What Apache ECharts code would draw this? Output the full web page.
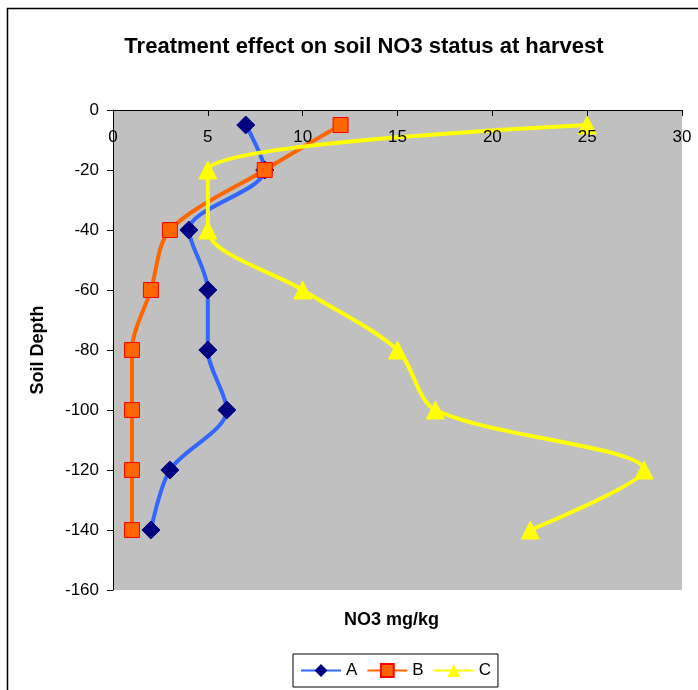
<!DOCTYPE html>
<html>
<head>
<meta charset="utf-8">
<script src="https://cdn.jsdelivr.net/npm/echarts@6/dist/echarts.min.js"></script>
<style>
  html, body { margin: 0; padding: 0; background: #fff; }
  #chart { width: 698px; height: 690px; }
</style>
</head>
<body>
<div id="chart"></div>
<script>
// Soil depth (cm, negative downward) at each sampling layer
const depths = [-5, -20, -40, -60, -80, -100, -120, -140];
// NO3 concentration (mg/kg) per treatment
const seriesA = [7, 8, 4, 5, 5, 6, 3, 2];
const seriesB = [12, 8, 3, 2, 1, 1, 1, 1];
const seriesC = [25, 5, 5, 10, 15, 17, 28, 22];
const xTicks = { min: 0, max: 30, step: 5 };
const yTicks = { min: -160, max: 0, step: 20 };

const font = 'Liberation Sans, Arial, sans-serif';
const pairs = vals => vals.map((v, i) => [v, depths[i]]);

const chart = echarts.init(document.getElementById('chart'));
chart.setOption({
  animation: false,
  backgroundColor: '#ffffff',
  title: {
    text: 'Treatment effect on soil NO3 status at harvest',
    left: 359, top: 31, textAlign: 'center',
    textStyle: { fontFamily: font, fontSize: 22, fontWeight: 'bold', color: '#000' }
  },
  grid: { left: 113, top: 110, width: 569, height: 480, show: true,
          backgroundColor: '#c0c0c0', borderWidth: 0 },
  xAxis: {
    type: 'value', position: 'top', min: xTicks.min, max: xTicks.max, interval: xTicks.step,
    z: 5,
    axisLine: { show: true, onZero: false, lineStyle: { color: '#000', width: 1 } },
    axisTick: { show: true, inside: true, length: 6, lineStyle: { color: '#000' } },
    axisLabel: { inside: true, margin: 19, fontFamily: font, fontSize: 17, color: '#000', verticalAlign: 'top' },
    splitLine: { show: false }
  },
  yAxis: {
    type: 'value', min: yTicks.min, max: yTicks.max, interval: yTicks.step,
    name: 'Soil Depth', nameLocation: 'middle', nameRotate: 90, nameGap: 66,
    nameTextStyle: { fontFamily: font, fontSize: 18, fontWeight: 'bold', color: '#000' },
    axisLine: { show: true, onZero: false, lineStyle: { color: '#000', width: 1 } },
    axisTick: { show: true, length: 6, lineStyle: { color: '#000' } },
    axisLabel: { margin: 14, fontFamily: font, fontSize: 17, color: '#000' },
    splitLine: { show: false }
  },
  legend: {
    data: ['A', 'B', 'C'],
    left: 293, top: 654,
    itemWidth: 40, itemHeight: 16, itemGap: 9,
    padding: [8, 7, 8, 7],
    borderColor: '#000', borderWidth: 1,
    textStyle: { fontFamily: font, fontSize: 17, color: '#000' }
  },
  graphic: [
    { type: 'rect', silent: true, z: -10,
      shape: { x: 7.5, y: 8.5, width: 720, height: 720 },
      style: { fill: 'none', stroke: '#000', lineWidth: 1.5 } },
    { type: 'text', left: 344, top: 611,
      style: { text: 'NO3 mg/kg', font: 'bold 18px ' + font, fill: '#000' } }
  ],
  series: [
    { name: 'A', type: 'line', data: pairs(seriesA), smooth: 0.3,
      symbol: 'diamond', symbolSize: 18,
      lineStyle: { color: '#3366ff', width: 4 },
      itemStyle: { color: '#000080', borderColor: '#000080' } },
    { name: 'B', type: 'line', data: pairs(seriesB), smooth: 0.3,
      symbol: 'rect', symbolSize: 15,
      lineStyle: { color: '#ff6600', width: 4 },
      itemStyle: { color: '#ff6600', borderColor: '#ff0000', borderWidth: 1 } },
    { name: 'C', type: 'line', data: pairs(seriesC), smooth: 0.3,
      symbol: 'triangle', symbolSize: 18,
      lineStyle: { color: '#ffff00', width: 4 },
      itemStyle: { color: '#ffff00', borderColor: '#ffff00' } }
  ]
});
</script>
</body>
</html>
